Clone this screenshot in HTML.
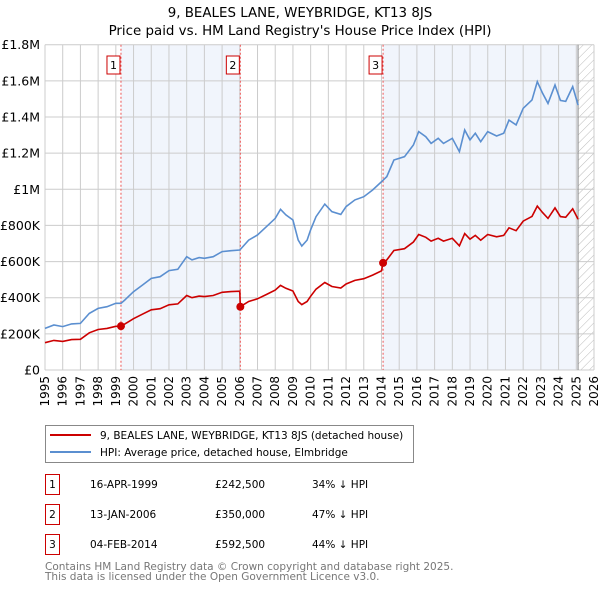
<!DOCTYPE html>
<html><head><meta charset="utf-8"><style>
body{margin:0;background:#fff;font-family:"DejaVu Sans","Liberation Sans",sans-serif;}
#wrap{position:relative;width:600px;height:590px;overflow:hidden;}
svg text{font-family:"DejaVu Sans","Liberation Sans",sans-serif;}
</style></head><body>
<div id="wrap">
<svg id="chart" width="600" height="590"></svg>
</div>
<script>
const hpiYears=[1995,1995.5,1996,1996.5,1997,1997.5,1998,1998.5,1999,1999.29,1999.5,2000,2000.5,2001,2001.5,2002,2002.5,2003,2003.3,2003.7,2004,2004.5,2005,2005.5,2006,2006.5,2007,2007.5,2008,2008.3,2008.6,2009,2009.3,2009.5,2009.8,2010,2010.3,2010.8,2011.2,2011.7,2012,2012.5,2013,2013.5,2014,2014.3,2014.7,2015.3,2015.8,2016.1,2016.5,2016.8,2017.2,2017.5,2018,2018.4,2018.7,2019,2019.3,2019.6,2020,2020.5,2020.9,2021.2,2021.6,2022,2022.5,2022.8,2023.1,2023.4,2023.8,2024.1,2024.4,2024.8,2025.1];
const hpiValues=[230,249,240,255,258,313,341,350,369,369,387,433,470,507,516,550,557,627,609,622,618,627,655,660,664,719,747,793,839,889,858,830,719,686,719,775,848,918,876,861,904,941,959,996,1042,1070,1162,1180,1245,1319,1291,1254,1282,1254,1282,1208,1328,1273,1310,1263,1319,1295,1310,1383,1356,1448,1494,1595,1531,1475,1577,1492,1486,1568,1466];
const redYears=[1995,1995.5,1996,1996.5,1997,1997.5,1998,1998.5,1999,1999.29,1999.5,2000,2000.5,2001,2001.5,2002,2002.5,2003,2003.3,2003.7,2004,2004.5,2005,2005.5,2006,2006.03,2006.5,2007,2007.5,2008,2008.3,2008.6,2009,2009.3,2009.5,2009.8,2010,2010.3,2010.8,2011.2,2011.7,2012,2012.5,2013,2013.5,2014,2014.09,2014.3,2014.7,2015.3,2015.8,2016.1,2016.5,2016.8,2017.2,2017.5,2018,2018.4,2018.7,2019,2019.3,2019.6,2020,2020.5,2020.9,2021.2,2021.6,2022,2022.5,2022.8,2023.1,2023.4,2023.8,2024.1,2024.4,2024.8,2025.1];
const redValues=[151,164,158,168,170,206,224,230,242,242.5,254,284,309,333,339,361,366,412,400,409,406,412,430,434,436,350,379,394,418,442,468,452,437,379,362,379,408,447,484,462,454,476,496,505,525,549,592.5,609,661,671,708,750,734,713,729,713,729,687,755,724,745,718,750,737,745,787,771,824,850,907,871,839,897,849,845,892,834];
const saleYears=[1999.29,2006.03,2014.09];
const salePrices=[242.5,350,592.5];
const saleLabels=["1","2","3"];
const yTicks=[0,200,400,600,800,1000,1200,1400,1600,1800];
const yTickLabels=["£0","£200K","£400K","£600K","£800K","£1M","£1.2M","£1.4M","£1.6M","£1.8M"];
const xTicks=[1995,1996,1997,1998,1999,2000,2001,2002,2003,2004,2005,2006,2007,2008,2009,2010,2011,2012,2013,2014,2015,2016,2017,2018,2019,2020,2021,2022,2023,2024,2025,2026];
const dataEnd=2025.1;

const L=45,R=594,T=44.7,B=370;
const x=y=>L+(y-1995)*(R-L)/31;
const yv=v=>B-v*(B-T)/1800;
const svg=document.getElementById('chart');
const NS='http://www.w3.org/2000/svg';
function mk(tag,at,parent){const e=document.createElementNS(NS,tag);for(const k in at)e.setAttribute(k,at[k]);(parent||svg).appendChild(e);return e;}

let t=mk('text',{x:300,y:17,'text-anchor':'middle','font-size':13.4,fill:'#000'});t.textContent='9, BEALES LANE, WEYBRIDGE, KT13 8JS';


t=mk('text',{x:300,y:35,'text-anchor':'middle','font-size':13.4,fill:'#000'});t.textContent="Price paid vs. HM Land Registry's House Price Index (HPI)";



let r=mk('rect',{x:x(saleYears[0]),y:T,width:x(saleYears[1])-x(saleYears[0]),height:B-T,fill:'#eef2fb',opacity:0.8});


r=mk('rect',{x:x(saleYears[2]),y:T,width:x(dataEnd)-x(saleYears[2]),height:B-T,fill:'#eef2fb',opacity:0.8});


const defs=mk('defs',{});
const pat=mk('pattern',{id:'hatch',width:6,height:6,patternUnits:'userSpaceOnUse',patternTransform:'rotate(45)'},defs);
mk('line',{x1:0,y1:0,x2:0,y2:6,stroke:'#bbb','stroke-width':1},pat);
r=mk('rect',{x:x(dataEnd),y:T,width:R-x(dataEnd),height:B-T,fill:'url(#hatch)'});



xTicks.forEach(v=>{const l=mk('line',{x1:x(v),x2:x(v),y1:T,y2:B,stroke:'#ccc','stroke-width':1});


const tx=mk('text',{x:0,y:0,'font-size':12,fill:'#000','text-anchor':'end',transform:`translate(${x(v)+4},${B+6}) rotate(-90)`});tx.textContent=v;

});
yTicks.forEach((v,i)=>{const l=mk('line',{x1:L,x2:R,y1:yv(v),y2:yv(v),stroke:'#ccc','stroke-width':1});


const tx=mk('text',{x:40,y:yv(v)+4.5,'font-size':12.5,fill:'#000','text-anchor':'end'});tx.textContent=yTickLabels[i];

});
let ln=mk('line',{x1:x(dataEnd),x2:x(dataEnd),y1:T,y2:B,stroke:'#888','stroke-width':1});



saleYears.forEach((s,i)=>{const l=mk('line',{x1:x(s),x2:x(s),y1:T,y2:B,stroke:'#e55','stroke-width':1,'stroke-dasharray':'2,2'});


const bx=mk('rect',{x:x(s)-14,y:56,width:13,height:18,fill:'#fff',stroke:'#c00','stroke-width':1});


const tx=mk('text',{x:x(s)-7.5,y:69,'font-size':11,'text-anchor':'middle',fill:'#000'});tx.textContent=saleLabels[i];

});

function path(xs,vs){return xs.map((a,i)=>(i?'L':'M')+x(a).toFixed(1)+','+yv(vs[i]).toFixed(1)).join('');}
let p=mk('path',{d:path(hpiYears,hpiValues),fill:'none',stroke:'#5b8fd0','stroke-width':1.6});


p=mk('path',{d:path(redYears,redValues),fill:'none',stroke:'#cc0000','stroke-width':1.6});


saleYears.forEach((s,i)=>{const c=mk('circle',{cx:x(s),cy:yv(salePrices[i]),r:4,fill:'#cc0000'});

});

const lg=mk('g',{});


mk('rect',{x:45.5,y:425.5,width:368,height:37,fill:'#fff',stroke:'#888'},lg);
mk('line',{x1:50,x2:91,y1:435,y2:435,stroke:'#cc0000','stroke-width':2},lg);
mk('line',{x1:50,x2:91,y1:452,y2:452,stroke:'#5b8fd0','stroke-width':2},lg);
t=mk('text',{x:100,y:439,'font-size':10.5,fill:'#000'},lg);t.textContent='9, BEALES LANE, WEYBRIDGE, KT13 8JS (detached house)';


t=mk('text',{x:100,y:456,'font-size':10.5,fill:'#000'},lg);t.textContent='HPI: Average price, detached house, Elmbridge';



const rows=[["1","16-APR-1999","£242,500","34% ↓ HPI"],["2","13-JAN-2006","£350,000","47% ↓ HPI"],["3","04-FEB-2014","£592,500","44% ↓ HPI"]];
rows.forEach((rw,i)=>{const cy=483+i*30;
const b=mk('rect',{x:45.5,y:cy-8.5,width:14,height:20,fill:'#fff',stroke:'#c00'});


[[52.5,'middle',rw[0]],[90,'start',rw[1]],[215,'start',rw[2]],[312,'start',rw[3]]].forEach(c=>{
const tx=mk('text',{x:c[0],y:cy+5,'font-size':10.5,'text-anchor':c[1],fill:'#000'});tx.textContent=c[2];

});});
t=mk('text',{x:45,y:570,'font-size':10.5,fill:'#777'});t.textContent='Contains HM Land Registry data © Crown copyright and database right 2025.';


t=mk('text',{x:45,y:580,'font-size':10.5,fill:'#777'});t.textContent='This data is licensed under the Open Government Licence v3.0.';


</script>
</body></html>
